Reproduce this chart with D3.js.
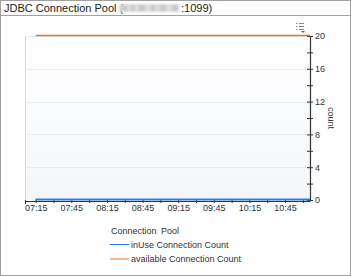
<!DOCTYPE html>
<html lang="en">
<head>
<meta charset="utf-8" />
<script src="https://cdnjs.cloudflare.com/ajax/libs/d3/7.8.5/d3.min.js"></script>
<style>
  body { margin: 0; background: #fff; }
  text { font-family: "Liberation Sans", Arial, sans-serif; }
</style>
</head>
<body>
<div id="chart"></div>
<script>
// data
const times = ['07:15','07:30','07:45','08:00','08:15','08:30','08:45','09:00','09:15',
               '09:30','09:45','10:00','10:15','10:30','10:45','11:00','11:06'];
const inUseCount     = [0,0,0,0,0,0,0,0,0,0,0,0,0,0,0,0,0];
const availableCount = [20,20,20,20,20,20,20,20,20,20,20,20,20,20,20,20,20];
const tickLabels = ['07:15','07:45','08:15','08:45','09:15','09:45','10:15','10:45'];
const yTicks = [0, 4, 8, 12, 16, 20];
const seriesNames = ['inUse Connection Count', 'available Connection Count'];
const seriesColors = ['#2a7fe0', '#e27b12'];

const W = 351, H = 276;
const plot = { left: 25, right: 310, top: 36, bottom: 200 };

const parse = d3.timeParse('%H:%M');
const svg = d3.select('#chart').append('svg').attr('width', W).attr('height', H);

// frame + title
svg.append('rect').attr('x', 0.5).attr('y', 0.5).attr('width', W - 1).attr('height', H - 1)
  .attr('fill', '#fff').attr('stroke', '#a0a0a0');
svg.append('line').attr('x1', 0).attr('x2', W).attr('y1', 15.5).attr('y2', 15.5).attr('stroke', '#a0a0a0');

const defs = svg.append('defs');
defs.append('filter').attr('id', 'blur').append('feGaussianBlur').attr('stdDeviation', 1.2);
const grad = defs.append('linearGradient').attr('id', 'bg').attr('x1', 0).attr('x2', 0).attr('y1', 0).attr('y2', 1);
grad.append('stop').attr('offset', '0%').attr('stop-color', '#ffffff');
grad.append('stop').attr('offset', '100%').attr('stop-color', '#f4f6f9');

svg.append('text').attr('x', 4).attr('y', 12).attr('font-size', 11).attr('fill', '#222')
  .text('JDBC Connection Pool (');
// obscured host name
const blurG = svg.append('g').attr('filter', 'url(#blur)');
blurG.append('rect').attr('x', 119).attr('y', 4).attr('width', 60).attr('height', 8).attr('fill', '#dcdcdc');
[[122, 5], [131, 4], [139, 6], [151, 4], [160, 6], [172, 6]].forEach(([x, w]) =>
  blurG.append('rect').attr('x', x).attr('y', 5).attr('width', w).attr('height', 6).attr('fill', '#c8c8c8'));
svg.append('text').attr('x', 181).attr('y', 12).attr('font-size', 11).attr('fill', '#222').text(':1099)');

// scales
const x = d3.scaleTime().domain([parse('07:06'), parse('11:06')]).range([plot.left, plot.right]);
const y = d3.scaleLinear().domain([0, 20]).range([plot.bottom, plot.top]);

// plot background
svg.append('rect').attr('x', plot.left).attr('y', plot.top)
  .attr('width', plot.right - plot.left).attr('height', plot.bottom - plot.top).attr('fill', 'url(#bg)');
svg.append('line').attr('x1', plot.left + 0.5).attr('x2', plot.left + 0.5)
  .attr('y1', plot.top).attr('y2', plot.bottom).attr('stroke', '#d8d8d8');

// gridlines
svg.append('g').selectAll('line').data(yTicks.filter(d => d > 0)).join('line')
  .attr('x1', plot.left).attr('x2', plot.right)
  .attr('y1', d => Math.round(y(d)) + 0.5).attr('y2', d => Math.round(y(d)) + 0.5)
  .attr('stroke', '#e6eaf2');

// x axis
const xAxis = svg.append('g').attr('transform', `translate(0,${plot.bottom + 1})`)
  .call(d3.axisBottom(x).ticks(d3.timeMinute.every(15)).tickSize(2).tickSizeOuter(0)
    .tickFormat(d => tickLabels.includes(d3.timeFormat('%H:%M')(d)) ? d3.timeFormat('%H:%M')(d) : ''));
xAxis.select('.domain').attr('stroke', '#333').attr('stroke-width', 1.2);
xAxis.selectAll('.tick line').attr('stroke', '#333').attr('y1', -2);
xAxis.selectAll('.tick text').attr('font-size', 9).attr('fill', '#333').attr('dy', '0.5em')
  .attr('font-family', '"Liberation Sans", Arial, sans-serif');
svg.append('line').attr('x1', plot.left + 0.5).attr('x2', plot.left + 0.5)
  .attr('y1', plot.bottom).attr('y2', plot.bottom + 4).attr('stroke', '#333');

// y axis (right)
const yAxis = svg.append('g').attr('transform', `translate(${plot.right},0)`)
  .call(d3.axisRight(y).tickValues(d3.range(0, 21, 2)).tickSize(3).tickSizeOuter(0)
    .tickFormat(d => yTicks.includes(d) ? d : ''));
yAxis.select('.domain').attr('stroke', '#333').attr('stroke-width', 1.2);
yAxis.selectAll('.tick line').attr('stroke', '#333').attr('x1', -3);
yAxis.selectAll('.tick text').attr('font-size', 9).attr('fill', '#333').attr('x', 5)
  .attr('font-family', '"Liberation Sans", Arial, sans-serif');
svg.append('text').attr('transform', `translate(328,118) rotate(90)`)
  .attr('text-anchor', 'middle').attr('font-size', 9).attr('fill', '#333').text('count');

// lines
const series = [inUseCount, availableCount];
const line = d3.line().x((d, i) => x(parse(times[i]))).y(d => y(d) - 0.5);
series.forEach((vals, k) => {
  svg.append('path').datum(vals).attr('d', line).attr('fill', 'none')
    .attr('stroke', seriesColors[k]).attr('stroke-width', k === 0 ? 2 : 1.5);
});

// menu icon
const ic = svg.append('g').attr('transform', 'translate(296,23)').attr('stroke', '#888');
[0.5, 3.5, 6.5].forEach(v => {
  ic.append('line').attr('x1', 0).attr('x2', 1.5).attr('y1', v).attr('y2', v);
  ic.append('line').attr('x1', 3).attr('x2', 8).attr('y1', v).attr('y2', v);
});
ic.append('path').attr('d', 'M5,8 L9,8 L7,10 Z').attr('fill', '#666').attr('stroke', 'none');

// legend
svg.append('text').attr('x', 111).attr('y', 234).attr('font-size', 9).attr('fill', '#333')
  .attr('word-spacing', 2).text('Connection Pool');
seriesNames.forEach((name, k) => {
  const ly = 244.5 + k * 14.5;
  svg.append('line').attr('x1', 110).attr('x2', 129).attr('y1', ly).attr('y2', ly)
    .attr('stroke', seriesColors[k]).attr('stroke-width', 1);
  svg.append('text').attr('x', 131).attr('y', ly + 3).attr('font-size', 9).attr('fill', '#333')
    .text(name);
});
</script>
</body>
</html>
